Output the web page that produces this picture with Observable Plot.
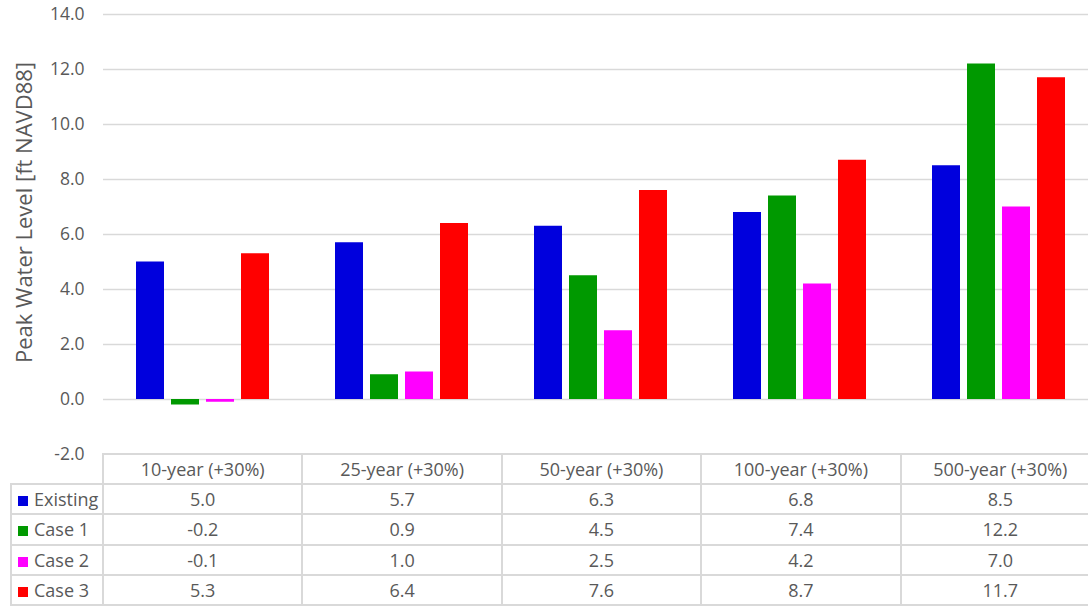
<!DOCTYPE html>
<html>
<head>
<meta charset="utf-8">
<script src="https://cdn.jsdelivr.net/npm/d3@7"></script>
<script src="https://cdn.jsdelivr.net/npm/@observablehq/plot@0.6"></script>
<style>
  html, body { margin: 0; padding: 0; background: #fff; }
  #wrap { position: relative; width: 1088px; height: 607px; overflow: hidden; font-family: "Open Sans", sans-serif; color: #595959; }
  #chart { position: absolute; left: 0; top: 0; }
  table.dt { position: absolute; left: 10px; top: 453px; width: 1091px; border-collapse: collapse; table-layout: fixed; font-size: 18px; color: #595959; }
  table.dt td { border: 2px solid #d9d9d9; height: 28.2px; padding: 0; text-align: center; white-space: nowrap; overflow: hidden; }
  table.dt td.blank { border: none; }
  table.dt td.leg { text-align: left; padding-left: 6px; }
  .sw { display: inline-block; width: 10px; height: 10px; margin-right: 6px; vertical-align: 0px; }
</style>
</head>
<body>
<div id="wrap">
  <div id="chart"></div>
  <table class="dt" id="tbl"></table>
</div>
<script>
const categories = ["10-year (+30%)", "25-year (+30%)", "50-year (+30%)", "100-year (+30%)", "500-year (+30%)"];
const seriesNames = ["Existing", "Case 1", "Case 2", "Case 3"];
const seriesColors = ["#0000dd", "#009900", "#ff00ff", "#ff0000"];
const existing = [5.0, 5.7, 6.3, 6.8, 8.5];
const case1 = [-0.2, 0.9, 4.5, 7.4, 12.2];
const case2 = [-0.1, 1.0, 2.5, 4.2, 7.0];
const case3 = [5.3, 6.4, 7.6, 8.7, 11.7];
const yTicks = [-2, 0, 2, 4, 6, 8, 10, 12, 14];
const yTitle = "Peak Water Level [ft NAVD88]";

const seriesValues = [existing, case1, case2, case3];
const rows = [];
seriesNames.forEach((s, si) => categories.forEach((c, ci) => rows.push({category: c, series: s, value: seriesValues[si][ci]})));

const plot = Plot.plot({
  width: 1099,
  height: 607,
  marginLeft: 102,
  marginRight: 0,
  marginTop: 14,
  marginBottom: 153,
  style: {fontFamily: "Open Sans, sans-serif", color: "#595959", maxWidth: "none", overflow: "visible", background: "transparent"},
  fx: {domain: categories, padding: 0, axis: null},
  x: {domain: seriesNames, paddingInner: 0.194, paddingOuter: 0.862, axis: null},
  y: {domain: [-2, 14]},
  color: {domain: seriesNames, range: seriesColors},
  marks: [
    Plot.ruleY(yTicks.filter(d => d > -2), {stroke: "#d9d9d9", strokeWidth: 1.5}),
    Plot.barY(rows, {fx: "category", x: "series", y: "value", fill: "series"}),
    Plot.axisY({ticks: yTicks, tickFormat: d => d.toFixed(1), tickSize: 0, tickPadding: 19, fontSize: 17.5, label: null}),
    Plot.text([yTitle], {frameAnchor: "left", textAnchor: "middle", rotate: -90, dx: -79, dy: -22, fontSize: 22, facet: "super"})
  ]
});
document.getElementById("chart").appendChild(plot);

// data table below the plot
const tbl = document.getElementById("tbl");
const colg = document.createElement("colgroup");
const widths = [92, 199.4, 199.4, 199.4, 199.4, 199.4];
widths.forEach(w => { const col = document.createElement("col"); col.style.width = w + "px"; colg.appendChild(col); });
tbl.appendChild(colg);
let tr = document.createElement("tr");
let td = document.createElement("td"); td.className = "blank"; tr.appendChild(td);
categories.forEach(c => { const t = document.createElement("td"); t.textContent = c; tr.appendChild(t); });
tbl.appendChild(tr);
seriesNames.forEach((s, si) => {
  const r = document.createElement("tr");
  const l = document.createElement("td"); l.className = "leg";
  const sw = document.createElement("span"); sw.className = "sw"; sw.style.background = seriesColors[si];
  l.appendChild(sw); l.appendChild(document.createTextNode(s));
  r.appendChild(l);
  seriesValues[si].forEach(v => { const t = document.createElement("td"); t.textContent = v.toFixed(1); r.appendChild(t); });
  tbl.appendChild(r);
});
</script>
</body>
</html>
